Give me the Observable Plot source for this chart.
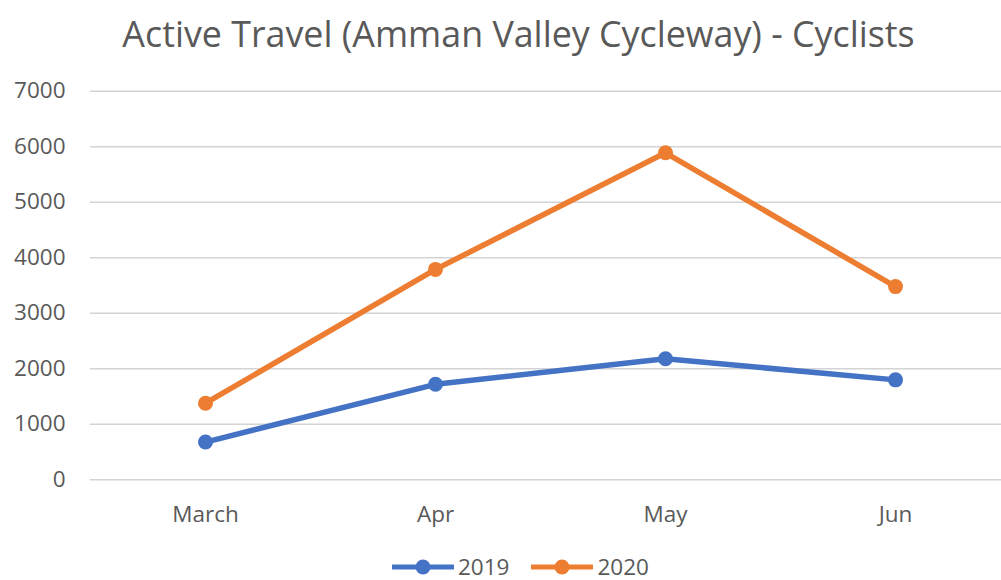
<!DOCTYPE html>
<html><head><meta charset="utf-8">
<script src="https://cdn.jsdelivr.net/npm/d3@7"></script>
<script src="https://cdn.jsdelivr.net/npm/@observablehq/plot@0.6"></script>
<style>
body{margin:0;background:#fff;font-family:"Open Sans",sans-serif;color:#595959;width:1001px;height:580px;overflow:hidden;position:relative}
#title{height:65px;line-height:66px;text-align:center;font-size:35.8px;padding-left:36px;box-sizing:border-box;white-space:nowrap}
#chart{height:480px}
#legend{position:absolute;left:392px;top:553px;height:28px;display:flex;align-items:center;font-size:22.5px;line-height:1;gap:0}
.item{display:flex;align-items:center;margin-right:22px}
.item svg{margin-right:4px}
.item span{line-height:1}
</style></head><body>
<div id="title">Active Travel (Amman Valley Cycleway) - Cyclists</div>
<div id="chart"></div>
<div id="legend"></div>
<script>
const months = ["March", "Apr", "May", "Jun"];
const seriesNames = ["2019", "2020"];
const values2019 = [680, 1720, 2180, 1800];
const values2020 = [1380, 3790, 5890, 3480];
const seriesColors = ["#4472C4", "#ED7D31"];
const yTicks = [0, 1000, 2000, 3000, 4000, 5000, 6000, 7000];

const data = months.flatMap((m, i) => [
  {month: m, series: seriesNames[0], value: values2019[i]},
  {month: m, series: seriesNames[1], value: values2020[i]}
]);

const plot = Plot.plot({
  width: 1001,
  height: 480,
  marginLeft: 90,
  marginRight: 0,
  marginTop: 25.7,
  marginBottom: 65.7,
  style: {fontFamily: "'Open Sans', sans-serif", fontSize: "22.5px", color: "#595959", background: "white"},
  x: {type: "point", domain: months, range: [90, 1010], padding: 0.5, label: null},
  y: {domain: [0, 7000], label: null},
  color: {domain: seriesNames, range: seriesColors},
  marks: [
    Plot.ruleY(yTicks, {stroke: "#d4d4d4", strokeWidth: 1.6}),
    Plot.axisY({ticks: yTicks, tickSize: 0, tickPadding: 25, label: null, tickFormat: d3.format("d"), fill: "#595959"}),
    Plot.axisX({tickSize: 0, tickPadding: 26, label: null, fill: "#595959"}),
    Plot.line(data, {x: "month", y: "value", stroke: "series", z: "series", strokeWidth: 5.5, strokeLinejoin: "round", strokeLinecap: "round"}),
    Plot.dot(data, {x: "month", y: "value", fill: "series", r: 7.5})
  ]
});
document.getElementById("chart").appendChild(plot);

const legend = document.getElementById("legend");
seriesNames.forEach((s, i) => {
  const item = document.createElement("div");
  item.className = "item";
  item.innerHTML = `<svg width="62" height="18"><line x1="1" x2="61" y1="9" y2="9" stroke="${seriesColors[i]}" stroke-width="5" stroke-linecap="round"/><circle cx="31" cy="9" r="7.5" fill="${seriesColors[i]}"/></svg><span>${s}</span>`;
  legend.appendChild(item);
});
</script>
</body></html>
